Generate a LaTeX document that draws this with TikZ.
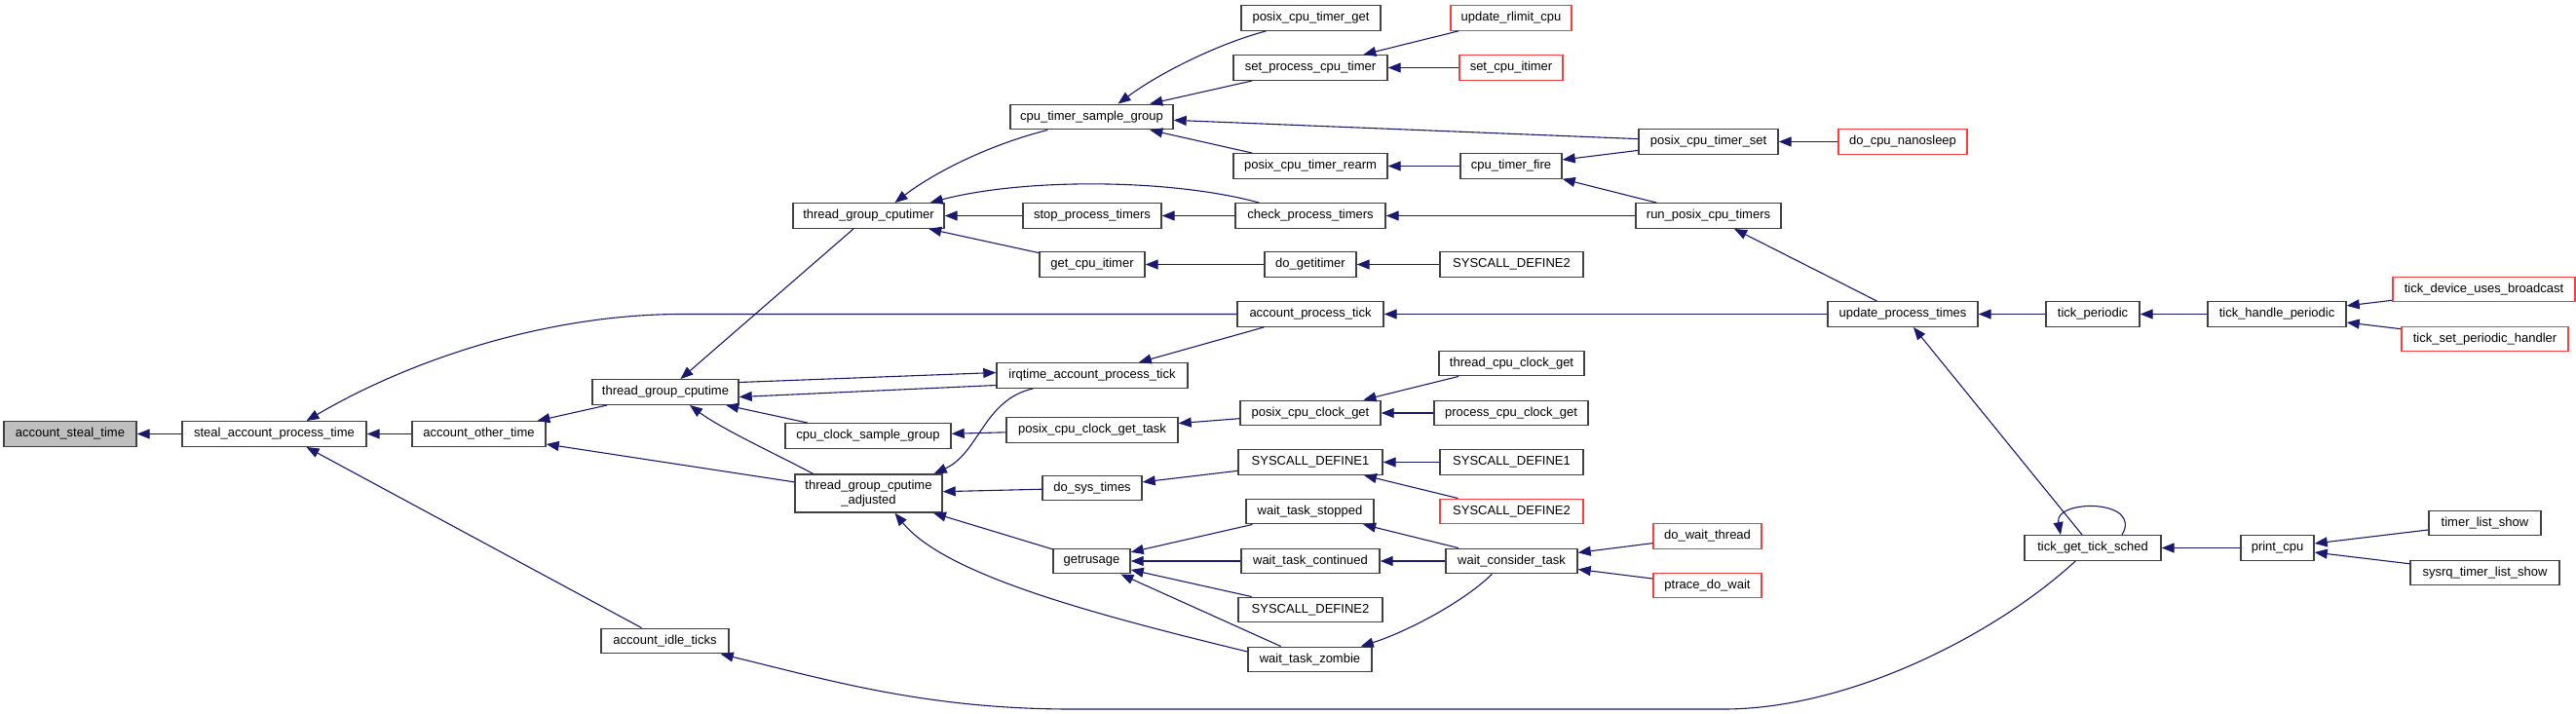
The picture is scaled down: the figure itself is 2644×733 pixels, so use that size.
\documentclass[tikz,border=0pt]{standalone}
\usepackage{fontspec}
\setmainfont{Liberation Sans}
\usetikzlibrary{arrows.meta,calc}
\definecolor{edgeblue}{RGB}{25,25,112}
\definecolor{boxgray}{RGB}{64,64,64}
\definecolor{boxred}{RGB}{255,60,60}
\definecolor{fillgray}{RGB}{191,191,191}
\begin{document}
\begin{tikzpicture}[x=1pt,y=-1pt,
 fn/.style={draw=boxgray, fill=white, line width=1.4pt, inner sep=0pt, minimum height=25.5pt, font=\fontsize{13}{15.5}\selectfont},
 trunc/.style={fn, draw=boxred},
 focus/.style={fn, fill=fillgray},
 edge/.style={draw=edgeblue, line width=1.1pt, -{Triangle[length=13pt,width=10pt]}},
]
\fill[white] (0,0) rectangle (2644,733);
\useasboundingbox (0,0) rectangle (2644,733);

% column 0-3
\node[focus, minimum width=136pt] (ast) at (72,445.5) {account\_steal\_time};
\node[fn, minimum width=189pt] (sapt) at (281.5,445.5) {steal\_account\_process\_time};
\node[fn, minimum width=137pt] (aot) at (491.5,445.5) {account\_other\_time};
\node[fn, minimum width=150pt] (tgc) at (683,402.5) {thread\_group\_cputime};
\node[fn, minimum width=131pt] (ait) at (682.5,658) {account\_idle\_ticks};
\node[fn, minimum width=155pt] (tgcr) at (891.5,221.5) {thread\_group\_cputimer};
\node[fn, minimum width=151pt, minimum height=39pt, align=center] (tgca) at (891.5,506.5) {thread\_group\_cputime\\\_adjusted};
\node[fn, minimum width=170pt] (ccsg) at (891,447.5) {cpu\_clock\_sample\_group};
% column 3
\node[fn, minimum width=167pt] (ctsg) at (1120.5,120) {cpu\_timer\_sample\_group};
\node[fn, minimum width=142pt] (spt) at (1121,221.5) {stop\_process\_timers};
\node[fn, minimum width=108pt] (gci) at (1121,271.5) {get\_cpu\_itimer};
\node[fn, minimum width=196pt] (iapt) at (1121,385.5) {irqtime\_account\_process\_tick};
\node[fn, minimum width=176pt] (pccgt) at (1121,441.5) {posix\_cpu\_clock\_get\_task};
\node[fn, minimum width=102pt] (dst) at (1121,501) {do\_sys\_times};
\node[fn, minimum width=79pt] (gru) at (1120.5,576) {getrusage};
% column 4
\node[fn, minimum width=143pt] (pctg) at (1345.5,18.5) {posix\_cpu\_timer\_get};
\node[fn, minimum width=158pt] (spct) at (1345,69.5) {set\_process\_cpu\_timer};
\node[fn, minimum width=158pt] (pctr) at (1345,170.5) {posix\_cpu\_timer\_rearm};
\node[fn, minimum width=154pt] (cpt) at (1345,221.5) {check\_process\_timers};
\node[fn, minimum width=94pt] (dgi) at (1345,271.5) {do\_getitimer};
\node[fn, minimum width=150pt] (apt) at (1345,322.5) {account\_process\_tick};
\node[fn, minimum width=144pt] (pccg) at (1345,424) {posix\_cpu\_clock\_get};
\node[fn, minimum width=148pt] (sd1a) at (1345,474.5) {SYSCALL\_DEFINE1};
\node[fn, minimum width=131pt] (wts) at (1344.5,525) {wait\_task\_stopped};
\node[fn, minimum width=142pt] (wtc) at (1345,576) {wait\_task\_continued};
\node[fn, minimum width=148pt] (sd2a) at (1345,626) {SYSCALL\_DEFINE2};
\node[fn, minimum width=127pt] (wtz) at (1344.5,677) {wait\_task\_zombie};
% column 5
\node[trunc, minimum width=124pt] (urc) at (1551,18.5) {update\_rlimit\_cpu};
\node[trunc, minimum width=106pt] (sci) at (1551,69.5) {set\_cpu\_itimer};
\node[fn, minimum width=104pt] (ctf) at (1551,170.5) {cpu\_timer\_fire};
\node[fn, minimum width=147pt] (sd2b) at (1551.5,271.5) {SYSCALL\_DEFINE2};
\node[fn, minimum width=149pt] (tccg) at (1551.5,373) {thread\_cpu\_clock\_get};
\node[fn, minimum width=158pt] (pcg) at (1551,424) {process\_cpu\_clock\_get};
\node[fn, minimum width=147pt] (sd1b) at (1551.5,474.5) {SYSCALL\_DEFINE1};
\node[trunc, minimum width=147pt] (sd2c) at (1551.5,525) {SYSCALL\_DEFINE2};
\node[fn, minimum width=135pt] (wct) at (1551.5,576) {wait\_consider\_task};
% column 6
\node[fn, minimum width=143pt] (pcts) at (1753.5,145.5) {posix\_cpu\_timer\_set};
\node[fn, minimum width=149pt] (rpct) at (1753.5,221.5) {run\_posix\_cpu\_timers};
\node[trunc, minimum width=111pt] (dwt) at (1752.5,550.5) {do\_wait\_thread};
\node[trunc, minimum width=111pt] (pdw) at (1752.5,601) {ptrace\_do\_wait};
% column 7+
\node[trunc, minimum width=132pt] (dcn) at (1953,145.5) {do\_cpu\_nanosleep};
\node[fn, minimum width=154pt] (upt) at (1953,322.5) {update\_process\_times};
\node[fn, minimum width=140pt] (tgts) at (2148,562.5) {tick\_get\_tick\_sched};
\node[fn, minimum width=96pt] (tp) at (2148,322.5) {tick\_periodic};
\node[fn, minimum width=142pt] (thp) at (2337,322.5) {tick\_handle\_periodic};
\node[fn, minimum width=75pt] (pc) at (2337.5,562.5) {print\_cpu};
\node[trunc, minimum width=187pt] (tdub) at (2549.5,297) {tick\_device\_uses\_broadcast};
\node[trunc, minimum width=171pt] (tsph) at (2550.5,348) {tick\_set\_periodic\_handler};
\node[fn, minimum width=115pt] (tls) at (2550.5,537) {timer\_list\_show};
\node[fn, minimum width=153pt] (stls) at (2550.5,588) {sysrq\_timer\_list\_show};

% edges
\draw[edge] (sapt) -- (ast);
\draw[edge] (aot) -- (sapt);
\draw[edge] (apt.west) -- (700,322.5) .. controls (560,322.5) and (420,370) .. ($(sapt.north)+(33,0)$);
\draw[edge] ($(ait.north)+(-24,0)$) -- ($(sapt.south)+(33,0)$);
\draw[edge] (tgc) -- (aot);
\draw[edge] (tgca) -- (aot);
\draw[edge] (tgcr) -- (tgc);
\draw[edge] ($(ctsg.south west)+(39,0)$) .. controls (1010,150) and (955,180) .. ($(tgcr.north)+(27,0)$);
\draw[edge] (spt) -- (tgcr);
\draw[edge] ($(cpt.north west)+(25,0)$) .. controls (1200,183) and (1050,183) .. ($(tgcr.north east)+(-15,0)$);
\draw[edge] (cpt) -- (spt);
\draw[edge] (gci) -- (tgcr);
\draw[edge] ($(iapt.west)+(0,10)$) -- ($(tgc.east)+(0,5)$);
\draw[edge] ($(tgc.east)+(0,-10)$) -- ($(iapt.west)+(0,-3)$);
\draw[edge] (ccsg) -- (tgc);
\draw[edge] ($(tgca.north)+(-57,0)$) .. controls (800,468) and (740,440) .. ($(tgc.south)+(25,0)$);
\draw[edge] (pccgt) -- (ccsg);
\draw[edge] ($(iapt.south west)+(38,0)$) .. controls (1010,410) and (1005,465) .. ($(tgca.north east)+(-9,0)$);
\draw[edge] (apt) -- (iapt);
\draw[edge] (pccg) -- (pccgt);
\draw[edge] (dst) -- (tgca);
\draw[edge] (gru) -- (tgca);
\draw[edge] ($(wtz.west)+(0,-8)$) .. controls (1120,630) and (970,590) .. ($(tgca.south)+(27,0)$);
\draw[edge] (sd1a) -- (dst);
\draw[edge] (wts) -- (gru);
\draw[edge] (wtc) -- (gru);
\draw[edge] (sd2a) -- (gru);
\draw[edge] (wtz) -- (gru);
\draw[edge] (tccg) -- (pccg);
\draw[edge] (pcg) -- (pccg);
\draw[edge] (sd1b) -- (sd1a);
\draw[edge] (sd2c) -- (sd1a);
\draw[edge] (wct) -- (wts);
\draw[edge] (wct) -- (wtc);
\draw[edge] ($(wct.south west)+(48,0)$) .. controls (1500,620) and (1440,650) .. ($(wtz.north east)+(-12,0)$);
\draw[edge] (dwt) -- (wct);
\draw[edge] (pdw) -- (wct);
\draw[edge] ($(pctg.south west)+(26,0)$) .. controls (1250,45) and (1190,75) .. ($(ctsg.north)+(27,0)$);
\draw[edge] (spct) -- (ctsg);
\draw[edge] (pcts) -- (ctsg);
\draw[edge] (pctr) -- (ctsg);
\draw[edge] (urc) -- (spct);
\draw[edge] (sci) -- (spct);
\draw[edge] (ctf) -- (pctr);
\draw[edge] (pcts) -- (ctf);
\draw[edge] (rpct) -- (ctf);
\draw[edge] (dcn) -- (pcts);
\draw[edge] (rpct) -- (cpt);
\draw[edge] (sd2b) -- (dgi);
\draw[edge] (dgi) -- (gci);
\draw[edge] (upt) -- (apt);
\draw[edge] (upt) -- (rpct);
\draw[edge] (tp) -- (upt);
\draw[edge] (thp) -- (tp);
\draw[edge] (tdub) -- (thp);
\draw[edge] (tsph) -- (thp);
\draw[edge] (tgts) -- (upt);
\draw[edge] ($(tgts.north)+(30,0)$) .. controls (2200,512) and (2108,512) .. ($(tgts.north)+(-33,0)$);
\draw[edge] ($(tgts.south west)+(53,0)$) .. controls (2050,650) and (1900,728) .. (1769,728) -- (1100,728) .. controls (950,728) and (850,698) .. ($(ait.south east)+(-9,0)$);
\draw[edge] (pc) -- (tgts);
\draw[edge] (tls) -- (pc);
\draw[edge] (stls) -- (pc);
\end{tikzpicture}
\end{document}
